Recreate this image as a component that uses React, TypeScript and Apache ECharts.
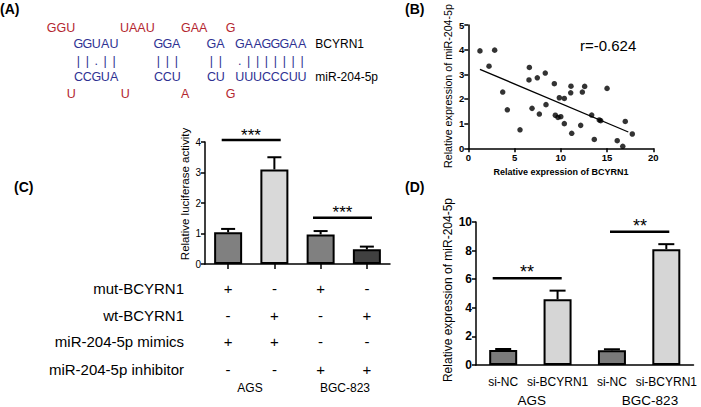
import React, { useEffect, useRef } from "react";
import * as echarts from "echarts";

// ---------- Panel A: sequences ----------
const redTop = ["GGU", "UAAU", "GAA", "G"];
const blueTop = ["GGUAU", "GGA", "GA", "GAAGGGAA"];
const pairRow = ["||.||", "|||", "||", ".|||||||"];
const blueBot = ["CCGUA", "CCU", "CU", "UUUCCCUU"];
const redBot = ["U", "U", "A", "G"];
const seqNames = ["BCYRN1", "miR-204-5p"];

// ---------- Panel B: scatter ----------
const bcyrn1Expr = [1.26, 2.24, 2.85, 3.72, 4.22, 5.59, 6.6, 6.56, 6.89, 7.46, 7.68, 8.32, 8.4, 9.3, 9.41, 9.7, 9.84, 10.0, 10.38, 10.38, 11.1, 11.07, 11.18, 12.33, 12.58, 12.15, 13.34, 13.62, 14.16, 14.31, 15.0, 16.1, 16.7, 16.97, 17.73];
const mirExpr = [3.95, 3.33, 3.98, 2.28, 1.56, 0.75, 3.28, 2.77, 1.62, 2.86, 1.39, 3.05, 1.77, 2.62, 1.34, 1.25, 2.05, 1.28, 2.02, 1.0, 2.52, 2.25, 0.61, 2.28, 2.51, 0.93, 1.35, 0.36, 1.15, 1.12, 2.43, 0.31, 0.08, 1.09, 0.58];
const fitLineX = [1.26, 17.3];
const fitLineY = [3.2, 0.66];
const corrText = "r=-0.624";

// ---------- Panel C: luciferase ----------
const lucCats = ["g1", "g2", "g3", "g4"];
const lucMean = [1.04, 3.1, 0.97, 0.48];
const lucUpper = [1.15, 3.5, 1.08, 0.57];
const lucColors = ["#808080", "#d9d9d9", "#808080", "#404040"];
const tableRows = ["mut-BCYRN1", "wt-BCYRN1", "miR-204-5p mimics", "miR-204-5p inhibitor"];
const tableSigns = [
  ["+", "-", "+", "-"],
  ["-", "+", "-", "+"],
  ["+", "+", "-", "-"],
  ["-", "-", "+", "+"],
];
const cellLines = ["AGS", "BGC-823"];

// ---------- Panel D: expression ----------
const expCats = ["a1", "a2", "b1", "b2"];
const expLabels = ["si-NC", "si-BCYRN1", "si-NC", "si-BCYRN1"];
const expMean = [1.05, 4.6, 1.03, 8.1];
const expUpper = [1.12, 5.2, 1.1, 8.45];
const expColors = ["#7a7a7a", "#d6d6d6", "#7a7a7a", "#d6d6d6"];

const FONT = "Arial, 'Liberation Sans', Helvetica, sans-serif";
const RED = "#b3262f";
const BLUE = "#2e3192";

function errRender(cap: number) {
  return (params: any, api: any) => {
    const x = api.value(0);
    const top = api.value(1);
    const mean = api.value(2);
    const p1 = api.coord([x, mean]);
    const p2 = api.coord([x, top]);
    return {
      type: "group",
      children: [
        { type: "line", shape: { x1: p1[0], y1: p1[1], x2: p2[0], y2: p2[1] }, style: { stroke: "#000", lineWidth: 2 } },
        { type: "line", shape: { x1: p2[0] - cap, y1: p2[1], x2: p2[0] + cap, y2: p2[1] }, style: { stroke: "#000", lineWidth: 2 } },
      ],
    };
  };
}

function txt(text: string, x: number, y: number, o: any = {}) {
  return {
    type: "text",
    x,
    y,
    rotation: o.rotation || 0,
    silent: true,
    style: {
      text,
      fill: o.fill || "#000",
      font: `${o.weight || "normal"} ${o.size || 12}px ${FONT}`,
      align: o.align || "left",
      verticalAlign: o.va || "middle",
    },
  };
}

function line(x1: number, y1: number, x2: number, y2: number, w = 2.5) {
  return { type: "line", silent: true, shape: { x1, y1, x2, y2 }, style: { stroke: "#000", lineWidth: w } };
}

function buildGraphics() {
  const g: any[] = [];
  // panel labels
  g.push(txt("(A)", 0, 9, { weight: "bold", size: 14 }));
  g.push(txt("(B)", 405, 9, { weight: "bold", size: 14 }));
  g.push(txt("(C)", 14, 187, { weight: "bold", size: 14 }));
  g.push(txt("(D)", 405, 187, { weight: "bold", size: 14 }));

  // panel A
  const step = 8.9;
  const blueStart = [74, 154, 207, 235.3];
  const redTopX = [46.7, 120, 181, 225.7];
  const redBotX = [66.7, 120.7, 181, 225.7];
  const rowY = [27.7, 44, 61, 76.7, 94];
  redTop.forEach((s, i) => g.push(txt(s, redTopX[i], rowY[0], { fill: RED, size: 12.5 })));
  redBot.forEach((s, i) => g.push(txt(s, redBotX[i], rowY[4], { fill: RED, size: 12.5 })));
  [blueTop, pairRow, blueBot].forEach((arr, r) => {
    arr.forEach((s, i) => {
      for (let k = 0; k < s.length; k++) {
        g.push(txt(s[k], blueStart[i] + k * step + step / 2, rowY[r + 1], { fill: BLUE, size: 12.5, align: "center" }));
      }
    });
  });
  g.push(txt(seqNames[0], 315.3, rowY[1], { size: 12 }));
  g.push(txt(seqNames[1], 315.3, rowY[3], { size: 12 }));

  // panel B texts
  g.push(txt(corrText, 580, 45, { size: 15 }));
  g.push(txt("Relative expression of miR-204-5p", 448, 86, { size: 10.7, rotation: Math.PI / 2, align: "center" }));
  g.push(txt("Relative expression of BCYRN1", 561, 172, { size: 9, weight: "bold", align: "center" }));

  // panel C texts
  g.push(txt("Relative luciferase activity", 185, 194, { size: 11.5, rotation: Math.PI / 2, align: "center" }));
  const tabY = [288.3, 315, 341.7, 369];
  const colX = [228.1, 274.4, 320.6, 366.9];
  tableRows.forEach((r, i) => {
    g.push(txt(r, 184, tabY[i], { size: 15, align: "right" }));
    tableSigns[i].forEach((s, j) => g.push(txt(s, colX[j], tabY[i], { size: 15, align: "center" })));
  });
  g.push(txt(cellLines[0], 250, 388, { size: 12, align: "center" }));
  g.push(txt(cellLines[1], 345, 388, { size: 12, align: "center" }));
  // significance C
  g.push(line(221.7, 140, 280.7, 140));
  g.push(txt("***", 251, 135, { size: 17, align: "center" }));
  g.push(line(313, 217.7, 372, 217.7));
  g.push(txt("***", 342.5, 212, { size: 17, align: "center" }));

  // panel D texts
  g.push(txt("Relative expression of miR-204-5p", 448, 290, { size: 12, rotation: Math.PI / 2, align: "center" }));
  g.push(txt(cellLines[0], 531.7, 400, { size: 13.5, align: "center" }));
  g.push(txt(cellLines[1], 650, 400, { size: 13.5, align: "center" }));
  g.push(line(492.7, 278.3, 561.7, 278.3));
  g.push(txt("**", 527, 272, { size: 18, align: "center" }));
  g.push(line(610, 231.7, 669.3, 231.7));
  g.push(txt("**", 640, 226, { size: 18, align: "center" }));
  return g;
}

const axisLineStyle = { lineStyle: { color: "#000", width: 1.5 } };

export default function App() {
  const ref = useRef<HTMLDivElement>(null);
  useEffect(() => {
    if (!ref.current) return;
    const chart = echarts.init(ref.current, undefined, { renderer: "svg" });
    chart.setOption({
      animation: false,
      backgroundColor: "#fff",
      grid: [
        { left: 468.3, top: 25, width: 185, height: 123.3 },
        { left: 205, top: 142, width: 185, height: 122 },
        { left: 476, top: 222, width: 217.5, height: 143 },
      ],
      xAxis: [
        {
          gridIndex: 0, type: "value", min: 0, max: 20, interval: 5,
          axisLine: { show: true, ...axisLineStyle }, axisTick: { show: true, length: 4, lineStyle: { color: "#000", width: 1.5 } },
          splitLine: { show: false },
          axisLabel: { color: "#000", fontSize: 9.5, fontWeight: "bold", fontFamily: FONT, margin: 4 },
        },
        {
          gridIndex: 1, type: "category", data: lucCats,
          axisLine: { show: true, ...axisLineStyle }, axisTick: { show: true, alignWithLabel: true, length: 5, lineStyle: { color: "#000", width: 1.5 } },
          axisLabel: { show: false },
        },
        {
          gridIndex: 2, type: "category", data: expCats,
          axisLine: { show: true, ...axisLineStyle }, axisTick: { show: false },
          axisLabel: { color: "#000", fontSize: 12, fontFamily: FONT, margin: 11, interval: 0, hideOverlap: false, formatter: (_v: string, i: number) => expLabels[i] },
        },
      ],
      yAxis: [
        {
          gridIndex: 0, type: "value", min: 0, max: 5, interval: 1,
          axisLine: { show: true, ...axisLineStyle }, axisTick: { show: true, length: 4, lineStyle: { color: "#000", width: 1.5 } },
          splitLine: { show: false },
          axisLabel: { color: "#000", fontSize: 9.5, fontWeight: "bold", fontFamily: FONT, margin: 4 },
        },
        {
          gridIndex: 1, type: "value", min: 0, max: 4, interval: 1,
          axisLine: { show: true, ...axisLineStyle }, axisTick: { show: true, length: 4, lineStyle: { color: "#000", width: 1.5 } },
          splitLine: { show: false },
          axisLabel: { color: "#000", fontSize: 10, fontFamily: FONT, margin: 4 },
        },
        {
          gridIndex: 2, type: "value", min: 0, max: 10, interval: 2,
          axisLine: { show: true, ...axisLineStyle }, axisTick: { show: true, length: 4, lineStyle: { color: "#000", width: 1.5 } },
          splitLine: { show: false },
          axisLabel: { color: "#000", fontSize: 12, fontWeight: "bold", fontFamily: FONT, margin: 4 },
        },
      ],
      series: [
        {
          type: "scatter", xAxisIndex: 0, yAxisIndex: 0, symbolSize: 5.5,
          itemStyle: { color: "#000" },
          data: bcyrn1Expr.map((x, i) => [x, mirExpr[i]]),
        },
        {
          type: "line", xAxisIndex: 0, yAxisIndex: 0, symbol: "none",
          lineStyle: { color: "#000", width: 1.3 },
          data: fitLineX.map((x, i) => [x, fitLineY[i]]),
        },
        {
          type: "bar", xAxisIndex: 1, yAxisIndex: 1, barWidth: 28,
          data: lucMean.map((v, i) => ({ value: v, itemStyle: { color: lucColors[i], borderColor: "#000", borderWidth: 2 } })),
        },
        {
          type: "custom", xAxisIndex: 1, yAxisIndex: 1,
          renderItem: errRender(7),
          encode: { x: 0, y: 1 },
          data: lucUpper.map((u, i) => [i, u, lucMean[i]]),
          z: 3,
        },
        {
          type: "bar", xAxisIndex: 2, yAxisIndex: 2, barWidth: 28,
          data: expMean.map((v, i) => ({ value: v, itemStyle: { color: expColors[i], borderColor: "#000", borderWidth: 2 } })),
        },
        {
          type: "custom", xAxisIndex: 2, yAxisIndex: 2,
          renderItem: errRender(8),
          encode: { x: 0, y: 1 },
          data: expUpper.map((u, i) => [i, u, expMean[i]]),
          z: 3,
        },
      ],
      graphic: buildGraphics(),
    });
    return () => chart.dispose();
  }, []);
  return <div ref={ref} style={{ position: "fixed", left: 0, top: 0, width: 701, height: 407 }} />;
}
